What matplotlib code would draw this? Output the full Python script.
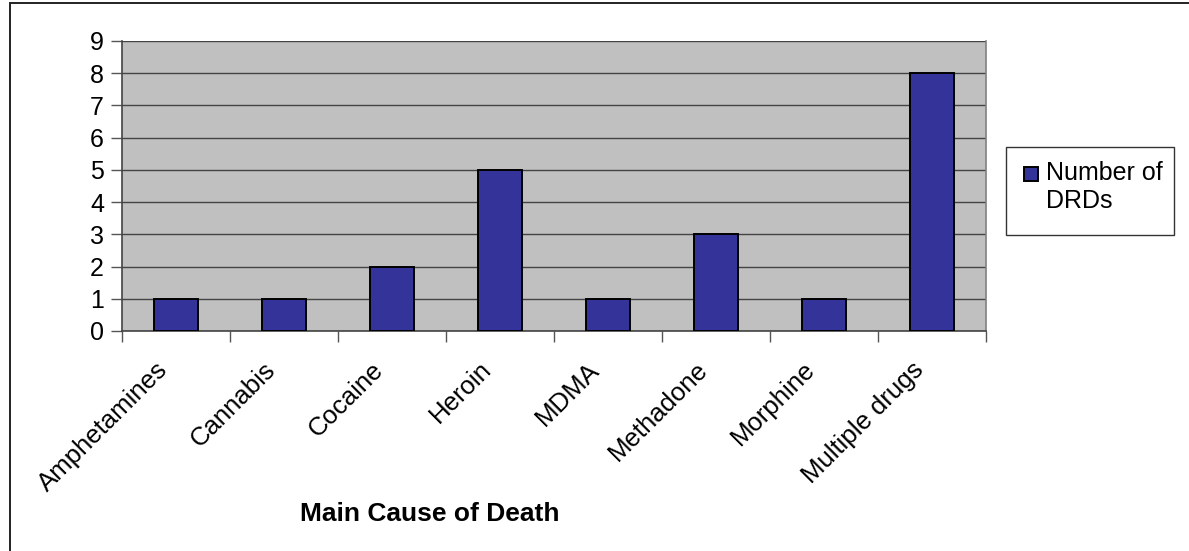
import matplotlib
matplotlib.use("Agg")
import matplotlib.pyplot as plt
from matplotlib.patches import Rectangle

categories = ["Amphetamines", "Cannabis", "Cocaine", "Heroin", "MDMA",
              "Methadone", "Morphine", "Multiple drugs"]
deaths = [1, 1, 2, 5, 1, 3, 1, 8]
y_ticks = list(range(0, 10))
series_label = "Number of\nDRDs"
x_title = "Main Cause of Death"

plt.rcParams["font.family"] = ["Liberation Sans", "DejaVu Sans"]

W, H = 1189, 551
fig = plt.figure(figsize=(W / 100, H / 100), dpi=100)
fig.patch.set_facecolor("white")

# outer chart border
fig.add_artist(Rectangle((10 / W, -0.01), 1.1, (H - 3) / H + 0.01,
                         transform=fig.transFigure, fill=False,
                         edgecolor="#222222", linewidth=1.4))

left, right, top, bottom = 122, 986, 41, 331
ax = fig.add_axes([left / W, 1 - bottom / H, (right - left) / W, (bottom - top) / H])
ax.set_facecolor("#C0C0C0")

x = list(range(len(categories)))
ax.bar(x, deaths, width=0.41, color="#333399", edgecolor="black",
       linewidth=1.4, zorder=3)

ax.set_xlim(-0.5, len(categories) - 0.5)
ax.set_ylim(0, 9)
ax.set_yticks(y_ticks)
ax.tick_params(axis="y", labelsize=18, length=8, width=1, color="#555555",
               direction="out", pad=5)
ax.yaxis.grid(True, color="#444444", linewidth=1, zorder=1)

# category ticks sit on the boundaries between bars
ax.set_xticks([i - 0.5 for i in range(len(categories) + 1)])
ax.set_xticklabels([])
ax.tick_params(axis="x", length=8, width=1, color="#555555", direction="out")
for i, name in enumerate(categories):
    ax.annotate(name, xy=(i, 0), xycoords="data", xytext=(-15, -19),
                textcoords="offset points", rotation=45, ha="right", va="top",
                rotation_mode="anchor", fontsize=18.5)

for side in ["left", "bottom"]:
    ax.spines[side].set_color("#444444")
    ax.spines[side].set_linewidth(1.2)
ax.spines["right"].set_color("#808080")
ax.spines["right"].set_linewidth(1.2)
ax.spines["top"].set_visible(False)

fig.text(430 / W, 1 - 514 / H, x_title, ha="center", va="center",
         fontsize=19, fontweight="bold")

# legend box
fig.add_artist(Rectangle((1006 / W, 1 - 235 / H), 168 / W, 88 / H,
                         transform=fig.transFigure, facecolor="white",
                         edgecolor="#333333", linewidth=1))
fig.add_artist(Rectangle((1024 / W, 1 - 181 / H), 14 / W, 14 / H,
                         transform=fig.transFigure, facecolor="#333399",
                         edgecolor="black", linewidth=1.4))
fig.text(1046 / W, 1 - 187 / H, series_label, ha="left", va="center",
         fontsize=18, linespacing=1.2)

fig.savefig("out.png", dpi=100)
